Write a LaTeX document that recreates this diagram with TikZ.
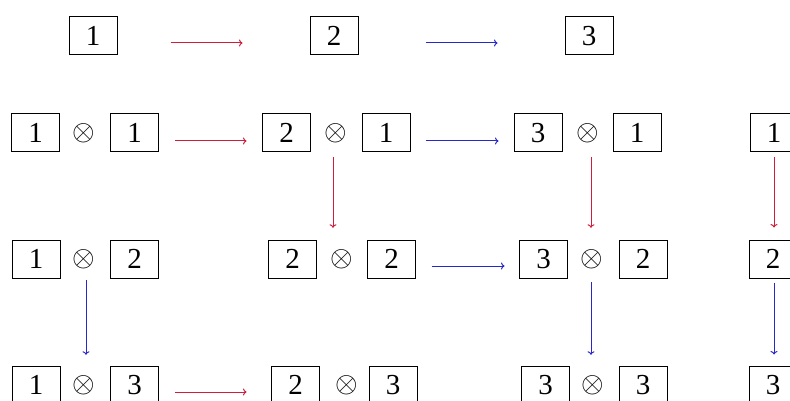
\RequirePackage{fix-cm}
\documentclass[tikz,border=0pt]{standalone}
\usepackage{fontspec}
\setmainfont{Liberation Serif}
\usetikzlibrary{arrows.meta}
\definecolor{arrred}{RGB}{205,30,60}
\definecolor{arrblue}{RGB}{40,40,200}
\tikzset{
  cell/.style={draw, line width=1pt, minimum width=48pt, minimum height=38pt, inner sep=0pt},
  tens/.style={minimum width=20pt, minimum height=38pt, inner sep=0pt},
  redarr/.style={draw=arrred, line width=1pt, -{To[length=3.5pt,width=7pt]}},
  bluearr/.style={draw=arrblue, line width=1pt, -{To[length=3.5pt,width=7pt]}}
}
\begin{document}
\begin{tikzpicture}[x=1pt, y=-1pt, font=\fontsize{29}{33}\selectfont]
\useasboundingbox (0,0) rectangle (790,401);
\clip (0,0) rectangle (790,401);
% row 1
\node[cell] (a1) at (93,36) {1};
\node[cell] (a2) at (334,36) {2};
\node[cell] (a3) at (589,36) {3};
% row 2
\node[cell] (b1l) at (35.5,133) {1};
\node[tens] (b1o) at (84,133) {$\otimes$};
\node[cell] (b1r) at (134.5,133) {1};
\node[cell] (b2l) at (286.5,133) {2};
\node[tens] (b2o) at (336,133) {$\otimes$};
\node[cell] (b2r) at (386,133) {1};
\node[cell] (b3l) at (538,133) {3};
\node[tens] (b3o) at (588,133) {$\otimes$};
\node[cell] (b3r) at (637,133) {1};
\node[cell] (b4) at (774,133) {1};
% row 3
\node[cell] (c1l) at (36,259) {1};
\node[tens] (c1o) at (84,259) {$\otimes$};
\node[cell] (c1r) at (134.5,259) {2};
\node[cell] (c2l) at (292.5,259) {2};
\node[tens] (c2o) at (342,259) {$\otimes$};
\node[cell] (c2r) at (391.5,259) {2};
\node[cell] (c3l) at (543.5,259) {3};
\node[tens] (c3o) at (592,259) {$\otimes$};
\node[cell] (c3r) at (643,259) {2};
\node[cell] (c4) at (773,259) {2};
% row 4
\node[cell] (d1l) at (36,385) {1};
\node[tens] (d1o) at (84,385) {$\otimes$};
\node[cell] (d1r) at (134.5,385) {3};
\node[cell] (d2l) at (295.5,385) {2};
\node[tens] (d2o) at (347,385) {$\otimes$};
\node[cell] (d2r) at (393,385) {3};
\node[cell] (d3l) at (545.5,385) {3};
\node[tens] (d3o) at (593,385) {$\otimes$};
\node[cell] (d3r) at (643,385) {3};
\node[cell] (d4) at (773,385) {3};
% horizontal arrows
\draw[redarr] ([xshift=53pt,yshift=-7pt]a1.east) -- ([xshift=-67pt,yshift=-7pt]a2.west);
\draw[bluearr] ([xshift=67pt,yshift=-7pt]a2.east) -- ([xshift=-67pt,yshift=-7pt]a3.west);
\draw[redarr] ([xshift=15.5pt,yshift=-8pt]b1r.east) -- ([xshift=-15.5pt,yshift=-8pt]b2l.west);
\draw[bluearr] ([xshift=15pt,yshift=-8pt]b2r.east) -- ([xshift=-15pt,yshift=-8pt]b3l.west);
\draw[bluearr] ([xshift=15.5pt,yshift=-7pt]c2r.east) -- ([xshift=-14.5pt,yshift=-7pt]c3l.west);
\draw[redarr] ([xshift=15.5pt,yshift=-7pt]d1r.east) -- ([xshift=-24.5pt,yshift=-7pt]d2l.west);
% vertical arrows
\draw[redarr] ([xshift=-3pt,yshift=-5pt]b2o.south) -- ([xshift=-9pt,yshift=12pt]c2o.north);
\draw[redarr] ([xshift=3pt,yshift=-5pt]b3o.south) -- ([xshift=-1pt,yshift=12pt]c3o.north);
\draw[redarr] ([yshift=-5pt]b4.south) -- ([xshift=1pt,yshift=12pt]c4.north);
\draw[bluearr] ([xshift=2pt,yshift=-2pt]c1o.south) -- ([xshift=2pt,yshift=11pt]d1o.north);
\draw[bluearr] ([xshift=-1pt,yshift=-4pt]c3o.south) -- ([xshift=-2pt,yshift=11pt]d3o.north);
\draw[bluearr] ([xshift=1pt,yshift=-4pt]c4.south) -- ([xshift=1pt,yshift=11pt]d4.north);
\end{tikzpicture}
\end{document}
